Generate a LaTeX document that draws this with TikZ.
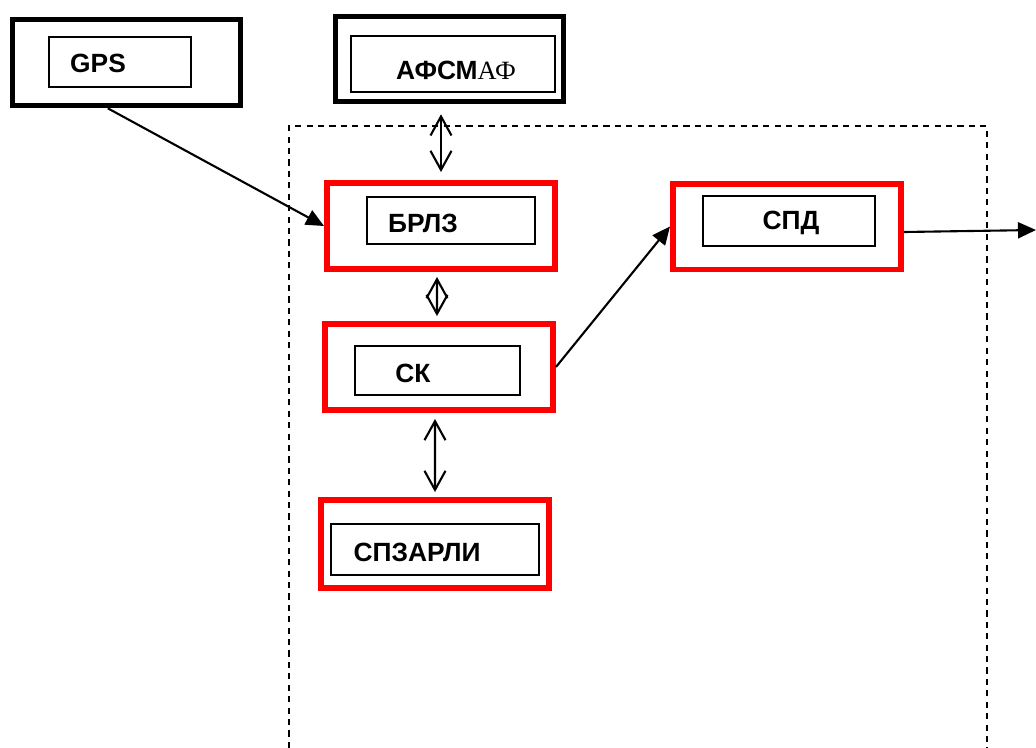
\documentclass[tikz,border=0pt]{standalone}
\usepackage{fontspec}
\setmainfont{Liberation Serif}
\setsansfont{Liberation Sans}
\usepackage{tikz}
\usetikzlibrary{arrows.meta,calc}

\begin{document}
\begin{tikzpicture}[
  x=0.02cm, y=-0.02cm,
  outerbox/.style={draw, line width=3.2pt, minimum width=4.56cm, minimum height=1.72cm},
  redbox/.style={outerbox, draw=red, line width=3.4pt},
  innerbox/.style={draw, line width=0.9pt, inner sep=0pt},
  lbl/.style={font=\sffamily\bfseries\fontsize{15}{18}\selectfont, inner sep=0pt},
  arr/.style={-{Triangle[length=0.36cm,width=0.32cm]}, line width=1.2pt},
  dbl/.style={{Straight Barb[length=0.38cm,width=0.42cm]}-{Straight Barb[length=0.38cm,width=0.42cm]}, line width=1.2pt},
  frame/.style={line width=0.9pt, dash pattern=on 3.5pt off 3pt},
]
\useasboundingbox (0,0) rectangle (1036,748);

% Dashed frame
\draw[frame] (289,748) -- (289,126) -- (987,126) -- (987,748);

% External blocks
\node[outerbox] (gps) at (126.5,62.5) {};
\node[innerbox, minimum width=2.84cm, minimum height=1.0cm] (gpsin) at (120,62) {};
\node[lbl] (gpstxt) at (98,63) {GPS};

\node[outerbox, minimum height=1.7cm] (afsm) at (449.5,59) {};
\node[innerbox, minimum width=4.08cm, minimum height=1.12cm] (afsmin) at (453,64) {};
\node[lbl] (afsmtxt) at (456,70) {АФСМ{\rmfamily\mdseries АФ}};

% Blocks inside the frame
\node[redbox] (brlz) at (441,226) {};
\node[innerbox, minimum width=3.36cm, minimum height=0.94cm] (brlzin) at (451,220.5) {};
\node[lbl] (brlztxt) at (423,223) {БРЛЗ};

\node[redbox] (sk) at (439,367) {};
\node[innerbox, minimum width=3.3cm, minimum height=0.98cm] (skin) at (437.5,370.5) {};
\node[lbl] (sktxt) at (413,373) {СК};

\node[redbox, minimum height=1.76cm] (spz) at (435,544) {};
\node[innerbox, minimum width=4.16cm, minimum height=1.02cm] (spzin) at (435,549.5) {};
\node[lbl] (spztxt) at (417,552) {СПЗАРЛИ};

\node[redbox] (spd) at (787,226.5) {};
\node[innerbox, minimum width=3.44cm, minimum height=1.0cm] (spdin) at (789,221) {};
\node[lbl] (spdtxt) at (791,223) {СПД};

\coordinate (out) at (1036,230);

% Arrows
\draw[arr] ($(gps.south west)!0.42!(gps.south east)$) -- (brlz.west);
\draw[dbl, shorten <=0.2cm, shorten >=0.16cm] (brlz.north |- afsm.south) -- (brlz.north);
\draw[dbl, shorten <=0.1cm, shorten >=0.1cm] ([xshift=-0.08cm]brlz.south) -- ([xshift=-0.04cm]sk.north);
\draw[dbl, shorten <=0.12cm, shorten >=0.1cm] ([xshift=-0.08cm]sk.south) -- ([xshift=0cm]spz.north);
\draw[arr] (sk.east) -- (spd.west);
\draw[arr] ([yshift=-0.11cm]spd.east) -- (out);
\end{tikzpicture}
\end{document}
